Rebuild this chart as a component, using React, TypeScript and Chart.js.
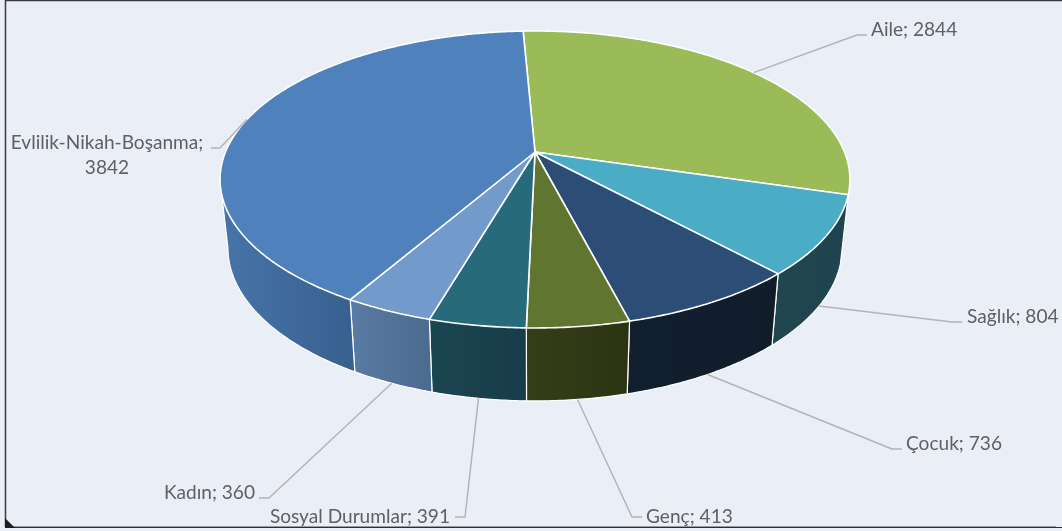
import React, { useEffect, useRef } from "react";
import { Chart, registerables } from "chart.js";

Chart.register(...registerables);

const categories = ["Aile", "Sağlık", "Çocuk", "Genç", "Sosyal Durumlar", "Kadın", "Evlilik-Nikah-Boşanma"];
const values = [2844, 804, 736, 413, 391, 360, 3842];
const topColors = ["#9BBB59", "#4BACC6", "#2C4D75", "#5F7530", "#276A7C", "#729ACA", "#4F81BD"];
const wallStart = ["#4f5f2d", "#20464f", "#111f2f", "#363e18", "#1a4650", "#5a7ba3", "#4774aa"];
const wallEnd = ["#4f5f2d", "#1f444f", "#111c2b", "#2c3312", "#183c4a", "#4b6a8f", "#38608e"];

// Projection of the flat pie: perspective disc seen from above
const cx = 535;
const cy = 152;
const k = -0.185;
const a = 309.5;
const b = 143.4;
// Bottom disc relative to the top disc
const sx = 0.975;
const sy = 1.03;
const cyBottom = 219.7;

type P = [number, number];
const topPt = (t: number): P => {
  const u = Math.cos(t), v = Math.sin(t), w = 1 + k * v;
  return [cx + (a * u) / w, cy + (b * v) / w];
};
const botPt = (t: number): P => {
  const u = Math.cos(t), v = Math.sin(t), w = 1 + k * v;
  return [cx + (sx * a * u) / w, cyBottom + (sy * b * v) / w];
};
// Front part of the rim, between the two silhouette rulings
const visStart = Math.asin(-k);
const visEnd = Math.PI - Math.asin(-k);

// Label layout: x, y of each line, alignment, leader elbow and end, anchor disc
const labelLayout = [
  { x: 871, ys: [30], align: "left", elbow: [857, 35], end: [867, 35], disc: "top", wrap: false },
  { x: 967, ys: [317], align: "left", elbow: [952, 322], end: [962, 322], disc: "bot", wrap: false },
  { x: 906, ys: [444], align: "left", elbow: [892, 449], end: [902, 449], disc: "bot", wrap: false },
  { x: 646, ys: [517], align: "left", elbow: [632, 517], end: [642, 517], disc: "bot", wrap: false },
  { x: 450, ys: [517], align: "right", elbow: [465, 517], end: [455, 517], disc: "bot", wrap: false },
  { x: 255, ys: [493], align: "right", elbow: [269, 498], end: [259, 498], disc: "bot", wrap: false },
  { x: 107, ys: [143, 168], align: "center", elbow: [220, 148], end: [211, 148], disc: "top", wrap: true },
];

const pie3d = {
  id: "pie3d",
  beforeDraw(chart: any) {
    const { ctx, width, height } = chart;
    ctx.save();
    ctx.fillStyle = "#EAEEF6";
    ctx.fillRect(0, 0, width, height);
    ctx.strokeStyle = "#3a3a3f";
    ctx.lineWidth = 1.5;
    ctx.beginPath();
    ctx.moveTo(width, 0.5);
    ctx.lineTo(5.5, 0.5);
    ctx.lineTo(5.5, 527);
    ctx.stroke();
    ctx.strokeStyle = "#9a9a9e";
    ctx.lineWidth = 1;
    ctx.beginPath();
    ctx.moveTo(6, 526.5);
    ctx.lineTo(1056, 526.5);
    ctx.stroke();
    ctx.strokeStyle = "#2e2e33";
    ctx.beginPath();
    ctx.moveTo(6, 527.5);
    ctx.lineTo(width, 527.5);
    ctx.stroke();
    ctx.fillStyle = "#1c1c20";
    ctx.beginPath();
    ctx.moveTo(5, 518);
    ctx.lineTo(15, 528);
    ctx.lineTo(5, 528);
    ctx.closePath();
    ctx.fill();
    ctx.restore();
  },
  beforeDatasetsDraw(chart: any) {
    const { ctx } = chart;
    const arcs = chart.getDatasetMeta(0).data;
    const STEP = 0.01;
    const sample = (s: number, e: number) => {
      const n = Math.max(2, Math.ceil((e - s) / STEP));
      const out: number[] = [];
      for (let i = 0; i <= n; i++) out.push(s + ((e - s) * i) / n);
      return out;
    };
    ctx.save();
    ctx.lineJoin = "round";
    // side wall: only the visible front part of every slice
    arcs.forEach((arc: any, i: number) => {
      const s = Math.max(arc.startAngle, visStart);
      const e = Math.min(arc.endAngle, visEnd);
      if (e <= s) return;
      const ts = sample(s, e);
      const tp = ts.map(topPt);
      const bp = ts.map(botPt);
      const xs = tp.concat(bp).map((p: P) => p[0]);
      const g = ctx.createLinearGradient(Math.min(...xs), 0, Math.max(...xs), 0);
      g.addColorStop(0, wallStart[i]);
      g.addColorStop(1, wallEnd[i]);
      ctx.beginPath();
      tp.forEach((p: P, j: number) => (j ? ctx.lineTo(p[0], p[1]) : ctx.moveTo(p[0], p[1])));
      bp.slice().reverse().forEach((p: P) => ctx.lineTo(p[0], p[1]));
      ctx.closePath();
      ctx.fillStyle = g;
      ctx.fill();
      // white edges: first ruling plus lower rim
      ctx.beginPath();
      ctx.moveTo(tp[0][0], tp[0][1]);
      bp.forEach((p: P) => ctx.lineTo(p[0], p[1]));
      ctx.lineTo(tp[tp.length - 1][0], tp[tp.length - 1][1]);
      ctx.strokeStyle = "#ffffff";
      ctx.lineWidth = 1.2;
      ctx.stroke();
    });
    // top face
    arcs.forEach((arc: any, i: number) => {
      const ts = sample(arc.startAngle, arc.endAngle);
      ctx.beginPath();
      ctx.moveTo(cx, cy);
      ts.map(topPt).forEach((p: P) => ctx.lineTo(p[0], p[1]));
      ctx.closePath();
      ctx.fillStyle = topColors[i];
      ctx.fill();
      ctx.strokeStyle = "#ffffff";
      ctx.lineWidth = 1.6;
      ctx.stroke();
    });
    // leaders and labels
    ctx.font = "19.1px Lato";
    ctx.textBaseline = "middle";
    arcs.forEach((arc: any, i: number) => {
      const mid = (arc.startAngle + arc.endAngle) / 2;
      const l = labelLayout[i];
      const p = l.disc === "top" ? topPt(mid) : botPt(mid);
      ctx.beginPath();
      ctx.moveTo(p[0], p[1]);
      ctx.lineTo(l.elbow[0], l.elbow[1]);
      ctx.lineTo(l.end[0], l.end[1]);
      ctx.strokeStyle = "#b4b4b4";
      ctx.lineWidth = 1.5;
      ctx.stroke();
      ctx.fillStyle = "#606063";
      ctx.textAlign = l.align;
      const lines = l.wrap
        ? [categories[i] + ";", String(values[i])]
        : [categories[i] + "; " + values[i]];
      lines.forEach((s: string, j: number) => ctx.fillText(s, l.x, l.ys[j]));
    });
    ctx.restore();
    return false;
  },
};

export default function App() {
  const ref = useRef<HTMLCanvasElement>(null);
  useEffect(() => {
    const chart = new Chart(ref.current!, {
      type: "pie",
      data: { labels: categories, datasets: [{ data: values, backgroundColor: topColors }] },
      options: {
        animation: false,
        responsive: false,
        rotation: -2.6,
        plugins: { legend: { display: false }, tooltip: { enabled: false } },
      },
      plugins: [pie3d],
    } as any);
    return () => chart.destroy();
  }, []);
  return (
    <div style={{ position: "fixed", left: 0, top: 0, width: 1062, height: 531 }}>
      <canvas ref={ref} width={1062} height={531} style={{ display: "block" }} />
    </div>
  );
}
